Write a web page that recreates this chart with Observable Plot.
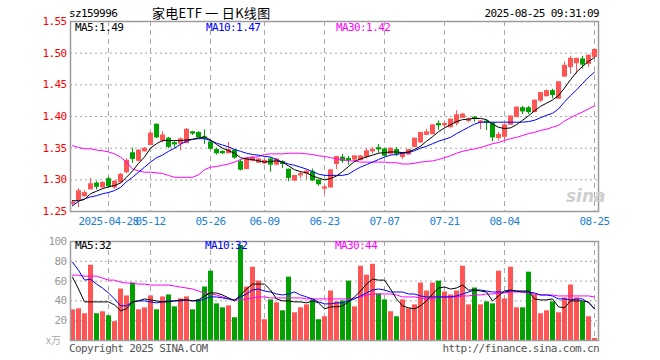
<!DOCTYPE html>
<html><head><meta charset="utf-8">
<script src="https://cdn.jsdelivr.net/npm/d3@7"></script>
<script src="https://cdn.jsdelivr.net/npm/@observablehq/plot@0.6"></script>
<style>
body{margin:0;background:#fff;}
#c{position:relative;width:660px;height:360px;overflow:hidden;background:#fff;font-family:"DejaVu Sans Mono",monospace;font-size:11px;letter-spacing:-0.6px;}
.t{position:absolute;white-space:pre;line-height:11px;}
.p{position:absolute;left:0;}
</style></head><body><div id="c"></div>
<script>
const dates = ["04-18","04-21","04-22","04-23","04-24","04-25","04-28","04-29","04-30",
"05-06","05-07","05-08","05-09","05-12","05-13","05-14","05-15","05-16","05-19","05-20","05-21","05-22","05-23","05-26","05-27","05-28","05-29","05-30",
"06-03","06-04","06-05","06-06","06-09","06-10","06-11","06-12","06-13","06-16","06-17","06-18","06-19","06-20","06-23","06-24","06-25","06-26","06-27","06-30",
"07-01","07-02","07-03","07-04","07-07","07-08","07-09","07-10","07-11","07-14","07-15","07-16","07-17","07-18","07-21","07-22","07-23","07-24","07-25","07-28","07-29","07-30","07-31",
"08-01","08-04","08-05","08-06","08-07","08-08","08-11","08-12","08-13","08-14","08-15","08-18","08-19","08-20","08-21","08-22","08-25"];
const open = [1.262,1.267,1.274,1.285,1.294,1.288,1.301,1.288,1.296,1.312,
1.342,1.330,1.345,1.355,1.387,1.362,1.365,1.358,1.357,1.358,
1.375,1.374,1.367,1.359,1.347,1.344,1.342,1.346,1.328,1.317,
1.330,1.327,1.326,1.332,1.324,1.328,1.316,1.299,1.307,1.310,
1.312,1.299,1.286,1.288,1.325,1.335,1.333,1.332,1.331,1.336,
1.345,1.350,1.348,1.341,1.347,1.336,1.340,1.352,1.359,1.371,
1.372,1.388,1.386,1.383,1.389,1.398,1.393,1.398,1.390,1.392,
1.389,1.366,1.368,1.387,1.399,1.413,1.413,1.407,1.425,1.432,
1.440,1.428,1.463,1.478,1.484,1.490,1.483,1.494];
const high = [1.267,1.286,1.283,1.302,1.297,1.297,1.304,1.299,1.310,1.333,
1.350,1.348,1.351,1.375,1.388,1.376,1.367,1.361,1.366,1.381,
1.376,1.376,1.379,1.361,1.350,1.346,1.359,1.348,1.331,1.335,
1.337,1.334,1.332,1.335,1.334,1.330,1.317,1.307,1.313,1.315,
1.317,1.300,1.291,1.316,1.337,1.340,1.337,1.338,1.338,1.349,
1.351,1.356,1.349,1.351,1.351,1.343,1.348,1.366,1.375,1.380,
1.387,1.393,1.391,1.396,1.409,1.405,1.398,1.400,1.394,1.395,
1.390,1.375,1.387,1.401,1.415,1.416,1.416,1.426,1.438,1.442,
1.443,1.455,1.486,1.495,1.492,1.495,1.497,1.507];
const low = [1.258,1.256,1.273,1.284,1.284,1.286,1.286,1.285,1.294,1.310,
1.326,1.328,1.344,1.354,1.365,1.358,1.349,1.350,1.346,1.357,
1.370,1.366,1.356,1.347,1.339,1.340,1.341,1.333,1.314,1.316,
1.328,1.326,1.324,1.312,1.322,1.318,1.297,1.297,1.302,1.300,
1.297,1.290,1.277,1.287,1.316,1.326,1.323,1.328,1.330,1.333,
1.341,1.342,1.337,1.339,1.337,1.332,1.339,1.351,1.358,1.370,
1.371,1.378,1.382,1.382,1.385,1.397,1.390,1.391,1.379,1.378,
1.360,1.361,1.362,1.386,1.398,1.403,1.403,1.406,1.422,1.431,
1.428,1.427,1.462,1.467,1.467,1.475,1.478,1.494];
const close = [1.264,1.282,1.279,1.293,1.289,1.295,1.290,1.297,1.308,1.330,
1.333,1.346,1.349,1.373,1.367,1.370,1.352,1.356,1.364,1.379,
1.373,1.367,1.365,1.349,1.342,1.342,1.347,1.335,1.316,1.333,
1.335,1.332,1.330,1.324,1.332,1.325,1.303,1.306,1.309,1.313,
1.299,1.293,1.288,1.315,1.336,1.330,1.331,1.337,1.337,1.345,
1.347,1.348,1.338,1.349,1.341,1.342,1.347,1.365,1.374,1.375,
1.386,1.386,1.388,1.395,1.402,1.403,1.395,1.396,1.392,1.390,
1.367,1.371,1.386,1.400,1.414,1.408,1.407,1.425,1.437,1.440,
1.434,1.454,1.480,1.491,1.491,1.482,1.496,1.505];
const ma5 = [1.267,1.267,1.269,1.278,1.282,1.286,1.289,1.291,1.295,1.304,
1.314,1.326,1.336,1.350,1.357,1.362,1.362,1.362,1.362,1.363,
1.364,1.366,1.368,1.363,1.356,1.350,1.346,1.342,1.335,1.333,
1.332,1.330,1.328,1.329,1.330,1.328,1.322,1.316,1.313,1.311,
1.306,1.303,1.300,1.302,1.306,1.313,1.321,1.329,1.333,1.336,
1.339,1.342,1.343,1.344,1.344,1.343,1.344,1.348,1.353,1.361,
1.368,1.376,1.382,1.387,1.392,1.395,1.396,1.397,1.397,1.395,
1.388,1.383,1.381,1.382,1.387,1.394,1.401,1.409,1.416,1.421,
1.426,1.433,1.445,1.458,1.470,1.479,1.487,1.493];
const ma10 = [1.259,1.266,1.270,1.273,1.275,1.278,1.280,1.283,1.288,1.297,
1.304,1.312,1.320,1.328,1.335,1.339,1.345,1.350,1.356,1.361,
1.364,1.365,1.365,1.362,1.358,1.355,1.352,1.348,1.345,1.342,
1.340,1.339,1.337,1.336,1.332,1.328,1.325,1.323,1.320,1.317,
1.313,1.309,1.307,1.307,1.307,1.307,1.309,1.315,1.320,1.324,
1.328,1.332,1.336,1.339,1.340,1.342,1.343,1.346,1.350,1.353,
1.357,1.361,1.364,1.367,1.373,1.378,1.383,1.388,1.391,1.391,
1.391,1.391,1.391,1.391,1.391,1.391,1.392,1.394,1.398,1.402,
1.405,1.412,1.423,1.433,1.442,1.452,1.462,1.470];
const ma30 = [1.354,1.351,1.349,1.349,1.347,1.346,1.344,1.341,1.336,1.328,
1.317,1.314,1.312,1.312,1.311,1.310,1.307,1.304,1.304,1.304,
1.304,1.308,1.316,1.320,1.321,1.323,1.325,1.328,1.332,1.335,
1.335,1.337,1.340,1.341,1.341,1.341,1.342,1.342,1.342,1.341,
1.340,1.338,1.337,1.335,1.333,1.332,1.330,1.330,1.328,1.328,
1.328,1.328,1.328,1.327,1.327,1.325,1.325,1.326,1.328,1.329,
1.330,1.332,1.335,1.338,1.342,1.345,1.347,1.349,1.351,1.354,
1.357,1.359,1.362,1.365,1.367,1.370,1.373,1.375,1.378,1.380,
1.383,1.386,1.393,1.398,1.403,1.407,1.412,1.417];
const volume = [31,32,27,76,27,29,25,19,52,45,
58,31,33,45,31,44,46,34,42,44,
31,41,54,70,37,33,35,23,96,54,
74,60,21,41,38,30,64,28,33,36,
41,21,24,50,39,40,60,34,75,66,
77,47,41,29,24,41,32,36,58,50,
58,60,49,46,50,75,36,53,36,39,
37,70,42,74,33,33,69,46,27,30,
39,28,43,56,43,39,24,2];
const vma5 = [64,52,39,39,39,39,39,36,30,32,
39,40,42,41,40,39,39,40,41,41,
40,41,45,48,48,46,43,40,46,52,
57,57,57,51,42,40,40,39,39,38,
40,38,32,34,34,35,39,44,50,57,
62,61,61,52,42,35,33,32,35,40,
47,53,54,52,53,56,51,51,50,49,
40,45,50,51,50,50,50,42,41,41,
42,34,33,40,40,40,39,32];
const vma10 = [79,71,61,62,57,53,48,42,35,35,
39,40,40,39,38,39,40,40,40,41,
40,40,42,44,44,43,42,41,44,47,
51,52,50,49,47,46,47,49,46,44,
42,39,37,37,38,38,40,42,45,48,
51,52,51,49,49,49,47,47,45,44,
44,44,44,44,45,47,49,51,51,50,
49,49,49,50,50,49,49,48,46,46,
45,42,42,41,42,42,38,32];
const vma30 = [66,66,65,65,65,63,61,61,59,58,
58,57,57,56,56,56,56,55,54,53,
52,50,48,47,46,44,42,41,41,42,
43,44,44,43,43,43,43,43,43,42,
42,42,42,42,42,42,42,43,44,46,
47,47,47,47,46,44,44,44,43,42,
42,44,44,44,44,45,45,46,46,47,
47,48,48,49,49,49,48,47,46,46,
46,45,45,45,45,45,45,44];
const priceTicks = [1.25,1.30,1.35,1.40,1.45,1.50,1.55];
const volTicks = [20,40,60,80,100];
const tickDates = ["04-28","05-12","05-26","06-09","06-23","07-07","07-21","08-04","08-25"];
const tickLabels = ["2025-04-28","05-12","05-26","06-09","06-23","07-07","07-21","08-04","08-25"];
const header = {code:"sz159996", title:"家电ETF 一 日K线图", time:"2025-08-25 09:31:09"};
const maText = ["MA5:1.49","MA10:1.47","MA30:1.42"];
const vmaText = ["MA5:32","MA10:32","MA30:44"];

const UP = "#ff5555", DOWN = "#00a000", GRID = "#a8a8a8", FRAME = "#9c9c9c";
const rows = dates.map((d, i) => ({i, d, o: open[i], h: high[i], l: low[i], c: close[i], v: volume[i],
  col: close[i] >= open[i] ? UP : DOWN, m5: ma5[i], m10: ma10[i], m30: ma30[i],
  vm5: vma5[i], vm10: vma10[i], vm30: vma30[i]}));
const tickIdx = tickDates.map(d => dates.indexOf(d));
const xDomain = [-1/3, rows.length - 1 + 2/3];
const style = {fontFamily: "'DejaVu Sans Mono', monospace", fontSize: "11px", letterSpacing: "-0.6px", background: "transparent", overflow: "visible"};

const price = Plot.plot({
  width: 660, height: 230, marginLeft: 70, marginRight: 62, marginTop: 21, marginBottom: 19,
  style,
  x: {domain: xDomain, axis: null, label: null},
  y: {domain: [1.25, 1.55], axis: null, label: null},
  color: {type: "identity"},
  marks: [
    Plot.ruleY(priceTicks.slice(1, -1), {stroke: GRID, strokeDasharray: "2,3"}),
    Plot.ruleX(tickIdx, {stroke: GRID, strokeDasharray: "5,4"}),
    Plot.ruleX(rows, {x: "i", y1: "l", y2: "h", stroke: "col"}),
    Plot.rect(rows, {x1: d => d.i - 1/3, x2: d => d.i + 1/2, y1: "o", y2: "c", fill: "col", insetTop: -0.5, insetBottom: -0.5}),
    Plot.line(rows, {x: "i", y: "m30", stroke: "#ff00ff", strokeWidth: 1}),
    Plot.line(rows, {x: "i", y: "m10", stroke: "#0000ff", strokeWidth: 1}),
    Plot.line(rows, {x: "i", y: "m5", stroke: "#000000", strokeWidth: 1}),
    Plot.axisY(priceTicks, {anchor: "left", label: null, tickSize: 0, tickPadding: 4, tickFormat: d => d.toFixed(2), fill: "#ff0000"}),
    Plot.axisX(tickIdx, {anchor: "bottom", label: null, tickSize: 0, tickPadding: 6, tickFormat: d => tickLabels[tickIdx.indexOf(d)], fill: "#1a7fd0"}),
    Plot.frame({stroke: FRAME, strokeWidth: 1.5})
  ]
});

const vol = Plot.plot({
  width: 660, height: 130, marginLeft: 70, marginRight: 62, marginTop: 11, marginBottom: 20,
  style,
  x: {domain: xDomain, axis: null, label: null},
  y: {domain: [0, 100], axis: null, label: null},
  color: {type: "identity"},
  marks: [
    Plot.ruleY(volTicks.slice(0, -1), {stroke: GRID, strokeDasharray: "2,3"}),
    Plot.ruleX(tickIdx, {stroke: GRID, strokeDasharray: "5,4"}),
    Plot.rect(rows, {x1: d => d.i - 1/3, x2: d => d.i + 1/2, y1: 0, y2: "v", fill: "col"}),
    Plot.line(rows, {x: "i", y: "vm30", stroke: "#ff00ff", strokeWidth: 1}),
    Plot.line(rows, {x: "i", y: "vm10", stroke: "#0000ff", strokeWidth: 1}),
    Plot.line(rows, {x: "i", y: "vm5", stroke: "#000000", strokeWidth: 1}),
    Plot.axisY(volTicks, {anchor: "left", label: null, tickSize: 0, tickPadding: 4, fill: "#999999"}),
    Plot.frame({stroke: FRAME, strokeWidth: 1.5})
  ]
});

const c = document.getElementById("c");
function wrap(node, top) { const d = document.createElement("div"); d.className = "p"; d.style.top = top + "px"; d.appendChild(node); c.appendChild(d); }
wrap(price, 0);
wrap(vol, 230);
function txt(s, css) { const d = document.createElement("div"); d.className = "t"; d.textContent = s; Object.assign(d.style, css); c.appendChild(d); }
txt(header.code, {left: "69px", top: "8px", color: "#000"});
txt(header.title, {left: "152px", top: "6px", color: "#000", fontFamily: "'Noto Sans CJK SC', sans-serif", fontSize: "13px", letterSpacing: "0.3px", lineHeight: "13px"});
txt(header.time, {right: "61px", top: "8px", color: "#000"});
const maCols = ["#000000", "#0000ff", "#ff00ff"], maLeft = [75, 206, 336];
maText.forEach((s, k) => txt(s, {left: maLeft[k] + "px", top: "22px", color: maCols[k]}));
vmaText.forEach((s, k) => txt(s, {left: (maLeft[k] - (k ? 1 : 0)) + "px", top: "240px", color: maCols[k]}));
txt("x万", {left: "46px", top: "334px", color: "#aaaaaa", fontFamily: "'Noto Sans CJK SC', sans-serif", fontSize: "10px", letterSpacing: "0px"});
txt("Copyright 2025 SINA.COM", {left: "69px", top: "343px", color: "#555"});
txt("http://finance.sina.com.cn", {right: "61px", top: "343px", color: "#555"});
txt("sina", {left: "566px", top: "188px", color: "#cfcfcf", fontFamily: "'DejaVu Sans', sans-serif", fontStyle: "italic", fontWeight: "bold", fontSize: "17px", letterSpacing: "0px", lineHeight: "17px"});
</script></body></html>
